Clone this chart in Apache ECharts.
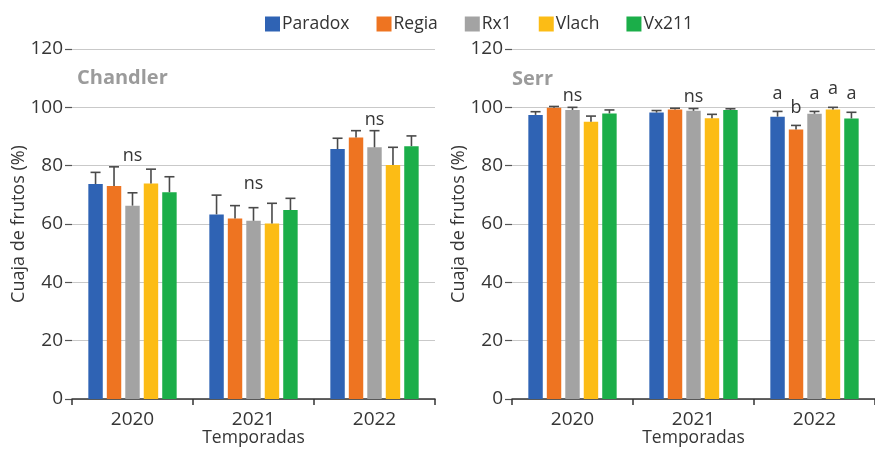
<!DOCTYPE html>
<html>
<head>
<meta charset="utf-8">
<script src="https://cdn.jsdelivr.net/npm/echarts@6/dist/echarts.min.js"></script>
<style>
  html, body { margin: 0; padding: 0; background: #fff; }
  #chart { width: 875px; height: 449px; }
</style>
</head>
<body>
<div id="chart"></div>
<script>
// Seasons and cultivars
const seasons = ['2020', '2021', '2022'];
const cultivars = ['Paradox', 'Regia', 'Rx1', 'Vlach', 'Vx211'];
const yTickMin = 0, yTickMax = 120, yTickStep = 20;

// Chandler: fruit set (%) per cultivar and season, with standard error
const chandlerParadox = [73.7, 63.3, 85.7];
const chandlerRegia   = [73.0, 61.9, 89.7];
const chandlerRx1     = [66.3, 61.1, 86.3];
const chandlerVlach   = [73.9, 60.2, 80.2];
const chandlerVx211   = [70.9, 64.8, 86.7];
const chandlerParadoxErr = [4.0, 6.6, 3.7];
const chandlerRegiaErr   = [6.6, 4.4, 2.3];
const chandlerRx1Err     = [4.4, 4.5, 5.7];
const chandlerVlachErr   = [4.9, 6.9, 6.1];
const chandlerVx211Err   = [5.3, 4.0, 3.5];
const chandlerGroupSig = ['ns', 'ns', 'ns'];
const chandlerBarSig = [[], [], []];

// Serr: fruit set (%) per cultivar and season, with standard error
const serrParadox = [97.4, 98.2, 96.8];
const serrRegia   = [99.9, 99.3, 92.4];
const serrRx1     = [99.1, 98.8, 97.8];
const serrVlach   = [95.1, 96.3, 99.3];
const serrVx211   = [97.9, 99.1, 96.2];
const serrParadoxErr = [1.1, 0.7, 1.8];
const serrRegiaErr   = [0.4, 0.4, 1.4];
const serrRx1Err     = [0.9, 0.8, 0.8];
const serrVlachErr   = [1.9, 1.3, 0.7];
const serrVx211Err   = [1.2, 0.4, 2.1];
const serrGroupSig = ['ns', 'ns', ''];
const serrBarSig = [[], [], ['a', 'b', 'a', 'a', 'a']];

const chandlerMeans = [chandlerParadox, chandlerRegia, chandlerRx1, chandlerVlach, chandlerVx211];
const chandlerErrs  = [chandlerParadoxErr, chandlerRegiaErr, chandlerRx1Err, chandlerVlachErr, chandlerVx211Err];
const serrMeans = [serrParadox, serrRegia, serrRx1, serrVlach, serrVx211];
const serrErrs  = [serrParadoxErr, serrRegiaErr, serrRx1Err, serrVlachErr, serrVx211Err];

const colors = ['#2f63b4', '#ee7421', '#a3a3a3', '#fcbc15', '#1bae49'];
const FONT = '"Open Sans", "Noto Sans", sans-serif';
const TEXT = '#363636';
const ERR_COLOR = '#4a4a4a';
const CAT_GAP = 0.27;
const BAR_GAP = 0.28;
const CAP = 10;

function barSeries(gridIdx, means) {
  return cultivars.map((name, k) => ({
    name,
    type: 'bar',
    xAxisIndex: gridIdx,
    yAxisIndex: gridIdx,
    data: means[k],
    barGap: (BAR_GAP * 100) + '%',
    barCategoryGap: (CAT_GAP * 100) + '%',
    itemStyle: { color: colors[k] },
    emphasis: { disabled: true }
  }));
}

// Whiskers (upper half of the standard error) and significance letters
function overlaySeries(gridIdx, means, errs, groupSig, barSig) {
  return {
    type: 'custom',
    xAxisIndex: gridIdx,
    yAxisIndex: gridIdx,
    z: 10,
    silent: true,
    data: seasons.map((s, i) => [i]),
    renderItem: (params, api) => {
      const c = api.value(0);
      const band = api.size([1, 0])[0];
      const n = means.length;
      const usable = band * (1 - CAT_GAP);
      const bw = usable / (n + (n - 1) * BAR_GAP);
      const gap = bw * BAR_GAP;
      const cx = api.coord([c, 0])[0];
      const start = cx - usable / 2;
      const children = [];
      let topMost = Infinity;
      const lineStyle = { stroke: ERR_COLOR, lineWidth: 1.6 };
      for (let k = 0; k < n; k++) {
        const x = start + k * (bw + gap) + bw / 2;
        const yv = api.coord([c, means[k][c]])[1];
        const yt = api.coord([c, means[k][c] + errs[k][c]])[1];
        topMost = Math.min(topMost, yt);
        children.push({ type: 'line', shape: { x1: x, y1: yv, x2: x, y2: yt }, style: lineStyle });
        children.push({ type: 'line', shape: { x1: x - CAP / 2, y1: yt, x2: x + CAP / 2, y2: yt }, style: lineStyle });
        const letter = barSig[c][k];
        if (letter) {
          children.push({
            type: 'text', x: x, y: yt - 18,
            style: { text: letter, align: 'center', verticalAlign: 'middle', font: '18px ' + FONT, fill: TEXT }
          });
        }
      }
      if (groupSig[c]) {
        children.push({
          type: 'text', x: cx, y: topMost - 11,
          style: { text: groupSig[c], align: 'center', verticalAlign: 'middle', font: '18px ' + FONT, fill: TEXT }
        });
      }
      return { type: 'group', children };
    }
  };
}

function xAxis(gridIdx) {
  return {
    type: 'category',
    gridIndex: gridIdx,
    data: seasons,
    axisLine: { lineStyle: { color: '#333', width: 1.5 } },
    axisTick: { show: true, length: 6, lineStyle: { color: '#333', width: 1.5 } },
    axisLabel: { fontSize: 19, color: TEXT, fontFamily: FONT, margin: 11 },
    name: 'Temporadas',
    nameLocation: 'middle',
    nameGap: 30,
    nameMoveOverlap: false,
    nameTextStyle: { fontSize: 17.5, color: TEXT, fontFamily: FONT }
  };
}

function yAxis(gridIdx) {
  return {
    type: 'value',
    gridIndex: gridIdx,
    min: yTickMin,
    max: yTickMax,
    interval: yTickStep,
    axisLine: { show: false },
    axisTick: { show: true, length: 7, lineStyle: { color: '#555', width: 1.2 } },
    axisLabel: { fontSize: 19, color: TEXT, fontFamily: FONT, margin: 9 },
    splitLine: { lineStyle: { color: '#c9c9c9', width: 1.2 } },
    name: 'Cuaja de frutos (%)',
    nameLocation: 'middle',
    nameGap: 44,
    nameMoveOverlap: false,
    nameTextStyle: { fontSize: 18, color: TEXT, fontFamily: FONT }
  };
}

const chart = echarts.init(document.getElementById('chart'), null, { renderer: 'canvas' });
chart.setOption({
  animation: false,
  backgroundColor: '#fff',
  color: colors,
  title: [
    { text: 'Chandler', left: 77, top: 68, padding: 0,
      textStyle: { fontSize: 20, fontWeight: 'bold', color: '#9b9b9b', fontFamily: FONT } },
    { text: 'Serr', left: 512, top: 69, padding: 0,
      textStyle: { fontSize: 20, fontWeight: 'bold', color: '#9b9b9b', fontFamily: FONT } }
  ],
  legend: {
    data: cultivars,
    left: 265,
    top: 15,
    padding: 0,
    itemWidth: 15,
    itemHeight: 15,
    itemGap: 27,
    icon: 'rect',
    textStyle: { fontSize: 17.5, color: '#333', fontFamily: FONT, padding: [0, 0, 0, -3] }
  },
  grid: [
    { left: 72, top: 49, width: 363, height: 350, outerBoundsMode: 'none', containLabel: false },
    { left: 512, top: 49, width: 363, height: 350, outerBoundsMode: 'none', containLabel: false }
  ],
  xAxis: [xAxis(0), xAxis(1)],
  yAxis: [yAxis(0), yAxis(1)],
  series: [
    ...barSeries(0, chandlerMeans),
    ...barSeries(1, serrMeans),
    overlaySeries(0, chandlerMeans, chandlerErrs, chandlerGroupSig, chandlerBarSig),
    overlaySeries(1, serrMeans, serrErrs, serrGroupSig, serrBarSig)
  ]
});
</script>
</body>
</html>
